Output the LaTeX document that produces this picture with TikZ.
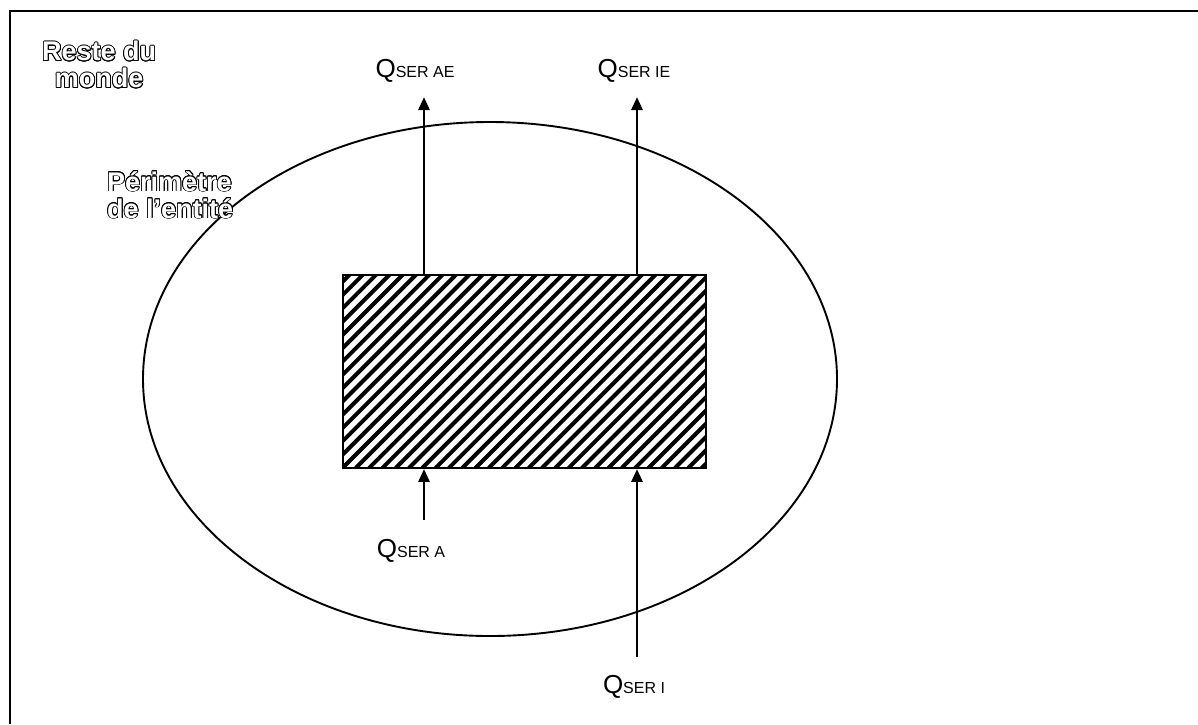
\documentclass[tikz,border=0pt]{standalone}
\usepackage{fontspec}
\setmainfont{Liberation Sans}
\usepackage{contour}
\usetikzlibrary{arrows.meta}
\contourlength{0.8pt}
\newcommand{\hollow}[1]{{\color{white}\contour{black}{#1}}}
\newcommand{\qser}[1]{Q{\fontsize{16}{18}\selectfont\raisebox{-0.8pt}{SER #1}}}

\begin{document}
\begin{tikzpicture}[x=1pt, y=1pt,
    flow/.style={line width=2.8pt, -{Triangle[length=13pt, width=11pt]}},
    qlabel/.style={anchor=base, inner sep=0pt, font=\fontsize{26}{30}\selectfont},
    zone/.style={align=center, inner sep=0pt, font=\fontsize{27}{28}\selectfont\bfseries},
    hatch/.style={line width=4pt}]
    \useasboundingbox (0,0) rectangle (1198,-724);

    % Frame (only top and left sides visible)
    \draw[line width=2.6pt] (10,-724) -- (10,-11) -- (1198,-11);

    % Perimeter of the entity
    \draw[line width=1.9pt] (490,-379) ellipse (347 and 257);

    % Zone labels
    \node[zone, anchor=north west] (monde) at (42,-41) {\hollow{Reste du}\\[-1pt]\hollow{monde}};
    \node[zone, anchor=north west, align=left] (perim) at (107,-171) {\hollow{Périmètre}\\[-1pt]\hollow{de l’entité}};

    % Hatched box
    \node[draw, line width=1.9pt, minimum width=363pt, minimum height=193pt, inner sep=0pt,
          path picture={
            \foreach \k in {0,...,44}
              \draw[hatch] ([xshift=\k*13.3pt-200pt]path picture bounding box.south west) -- ++(200,200);
          }] (box) at (524.5,-371.5) {};

    % Flow labels
    \node[qlabel] (qae) at (415,-77) {\qser{AE}};
    \node[qlabel] (qie) at (634,-77) {\qser{IE}};
    \node[qlabel] (qa) at (411,-557) {\qser{A}};
    \node[qlabel] (qi) at (634,-693) {\qser{I}};

    % Arrow ends
    \coordinate (tae) at (424,-97);
    \coordinate (tie) at (637,-97);
    \coordinate (sa) at (424,-520);
    \coordinate (si) at (637,-657);

    % Flows
    \draw[flow] (box.north -| tae) -- (tae);
    \draw[flow] (box.north -| tie) -- (tie);
    \draw[flow] (sa) -- (sa |- box.south);
    \draw[flow] (si) -- (si |- box.south);
\end{tikzpicture}
\end{document}
